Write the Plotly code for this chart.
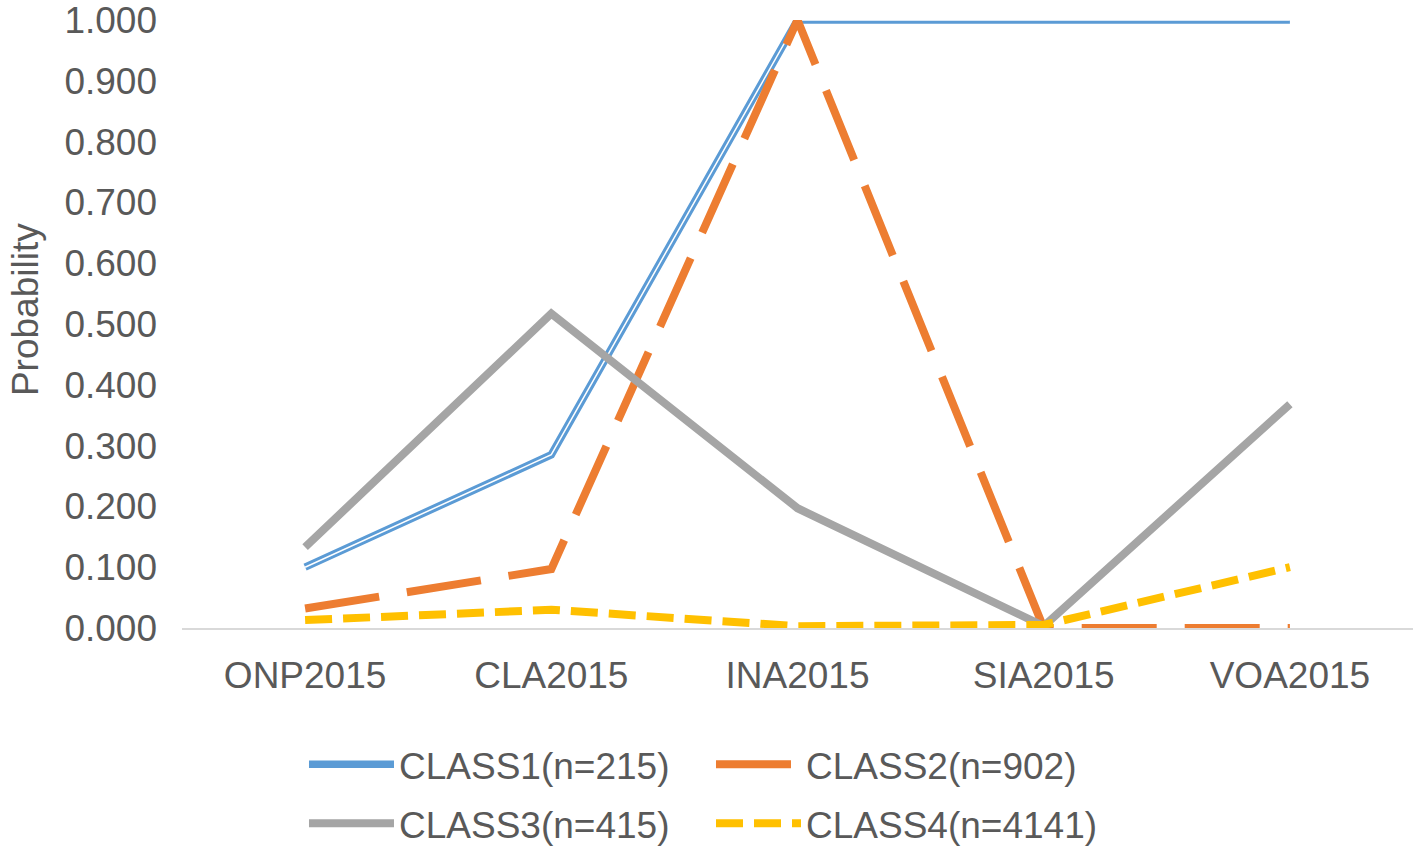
import plotly.graph_objects as go

categories = ["ONP2015", "CLA2015", "INA2015", "SIA2015", "VOA2015"]
class1 = [0.100, 0.285, 1.000, 1.000, 1.000]
class2 = [0.032, 0.097, 1.000, 0.000, 0.000]
class3 = [0.133, 0.517, 0.197, 0.003, 0.368]
class4 = [0.013, 0.030, 0.003, 0.005, 0.100]
names = ["CLASS1(n=215)", "CLASS2(n=902)", "CLASS3(n=415)", "CLASS4(n=4141)"]
y_ticks = [0.0, 0.1, 0.2, 0.3, 0.4, 0.5, 0.6, 0.7, 0.8, 0.9, 1.0]
y_title = "Probability"

FONT = "Liberation Sans, Arial, sans-serif"
TXT = "#595959"

fig = go.Figure()
fig.add_trace(go.Scatter(x=categories, y=class1, mode="lines", name=names[0],
                         line=dict(color="#5B9BD5", width=7.5), legend="legend"))
fig.add_trace(go.Scatter(x=categories, y=class1, mode="lines", showlegend=False,
                         hoverinfo="skip", line=dict(color="white", width=1.5)))
fig.add_trace(go.Scatter(x=categories, y=class2, mode="lines", name=names[1],
                         line=dict(color="#ED7D31", width=8, dash="75px,28px"), legend="legend"))
fig.add_trace(go.Scatter(x=categories, y=class3, mode="lines", name=names[2],
                         line=dict(color="#A5A5A5", width=8), legend="legend2"))
fig.add_trace(go.Scatter(x=categories, y=class4, mode="lines", name=names[3],
                         line=dict(color="#FFC000", width=8, dash="27px,11px"), legend="legend2"))

leg_common = dict(orientation="h", font=dict(family=FONT, size=37, color=TXT),
                  itemwidth=85, entrywidth=307, entrywidthmode="pixels",
                  xanchor="left", yanchor="middle", bgcolor="rgba(0,0,0,0)",
                  itemclick=False, itemdoubleclick=False)

fig.update_layout(
    width=1417, height=850,
    margin=dict(l=182, r=4, t=20, b=222, autoexpand=False),
    paper_bgcolor="white", plot_bgcolor="white",
    font=dict(family=FONT, size=37, color=TXT),
    showlegend=True,
    legend=dict(x=0.0991, y=-0.225, **leg_common),
    legend2=dict(x=0.0991, y=-0.322, **leg_common),
    xaxis=dict(
        type="category", range=[-0.5, 4.5], showgrid=False, zeroline=False,
        showline=True, linecolor="#D9D9D9", linewidth=2, automargin=False,
        tickfont=dict(family=FONT, size=37, color=TXT), ticks="", ticklabelstandoff=14,
    ),
    yaxis=dict(
        range=[0, 1], tickvals=y_ticks, tickformat=".3f", showgrid=False,
        zeroline=False, showline=False, ticks="", ticklabelstandoff=24,
        ticklabeloverflow="allow", automargin=False,
        tickfont=dict(family=FONT, size=37, color=TXT),
    ),
    annotations=[dict(
        text=y_title, xref="paper", yref="paper", x=-0.1275, y=0.523,
        xanchor="center", yanchor="middle", textangle=-90, showarrow=False,
        font=dict(family=FONT, size=37, color=TXT),
    )],
)

fig.write_html("out.html", post_script="document.body.style.margin='0';",
               config={"displayModeBar": False})
